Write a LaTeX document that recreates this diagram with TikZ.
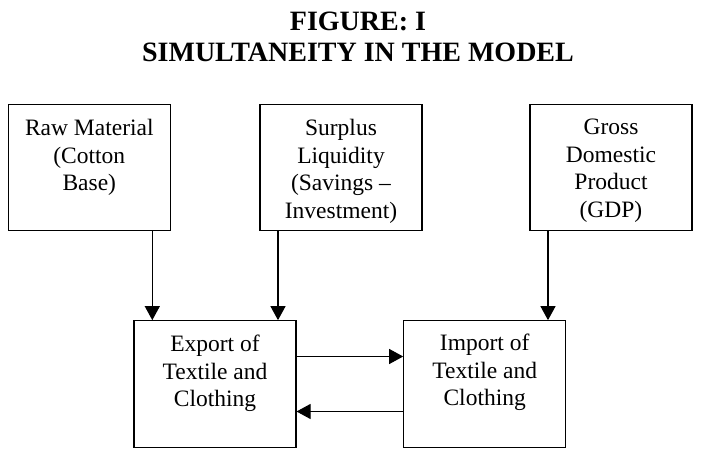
\documentclass[tikz,border=0pt]{standalone}
\usepackage{fontspec}
\setmainfont{Liberation Serif}
\usetikzlibrary{arrows.meta,positioning}

\tikzset{
  box/.style={draw, line width=1.1pt, minimum width=162pt, minimum height=126pt, inner sep=0pt},
  boxtext/.style={align=center, inner sep=0pt, font=\fontsize{23.5}{27.5}\selectfont},
  arr/.style={line width=1.1pt, -{Triangle[length=14pt, width=15pt]}},
  titletext/.style={align=center, inner sep=0pt, font=\bfseries\fontsize{28}{30.5}\selectfont}
}

\begin{document}
\begin{tikzpicture}[x=1pt, y=-1pt]
  \useasboundingbox (0,0) rectangle (702,460);

  % heading
  \node[titletext, anchor=north] (title) at (358,12) {FIGURE: I\\SIMULTANEITY IN THE MODEL};

  % determinants (top row)
  \node[box] (raw) at (89.3,167.7) {};
  \node[box] (liq) at (341,167.7) {};
  \node[box] (gdp) at (611,167.7) {};

  % trade flows (bottom row)
  \node[box, minimum height=126.6pt] (exp) at (215,384) {};
  \node[box, minimum height=126.6pt] (imp) at (484.7,384) {};

  % box captions, set from the top edge
  \node[boxtext, below=15pt of raw.north] (rawt) {Raw Material\\(Cotton\\Base)};
  \node[boxtext, below=15pt of liq.north] (liqt) {Surplus\\Liquidity\\(Savings --\\Investment)};
  \node[boxtext, below=15pt of gdp.north] (gdpt) {Gross\\Domestic\\Product\\(GDP)};
  \node[boxtext, below=15pt of exp.north] (expt) {Export of\\Textile and\\Clothing};
  \node[boxtext, below=14pt of imp.north] (impt) {Import of\\Textile and\\Clothing};

  % influences
  \draw[arr] ([xshift=63pt]raw.south) -- ([xshift=63pt]raw.south |- exp.north);
  \draw[arr] ([xshift=-63pt]liq.south) -- ([xshift=-63pt]liq.south |- exp.north);
  \draw[arr] ([xshift=-63pt]gdp.south) -- ([xshift=-63pt]gdp.south |- imp.north);

  % two-way link between exports and imports
  \draw[arr] ([yshift=27.5pt]exp.east) -- ([yshift=27.5pt]exp.east -| imp.west);
  \draw[arr] ([yshift=-27.5pt]imp.west) -- ([yshift=-27.5pt]imp.west -| exp.east);
\end{tikzpicture}
\end{document}
